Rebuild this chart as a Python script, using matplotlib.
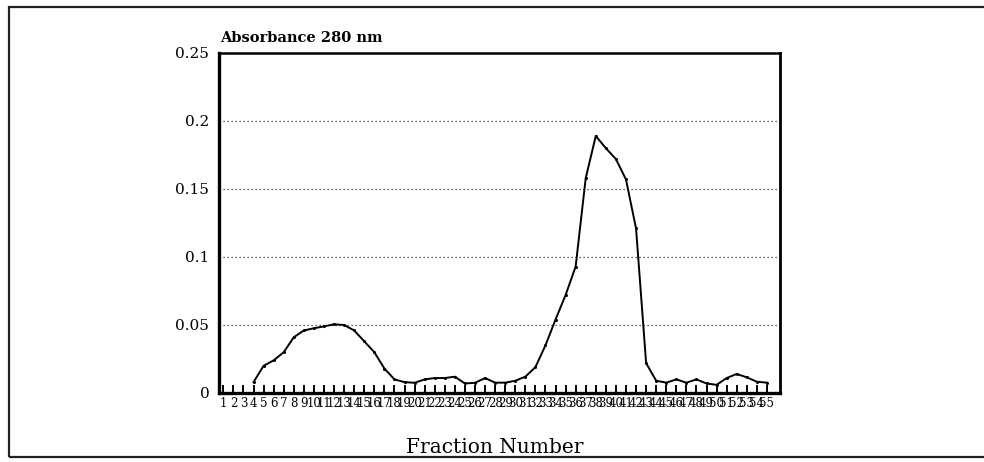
import matplotlib
matplotlib.use("Agg")
import matplotlib.pyplot as plt
from matplotlib.patches import Rectangle

# fraction numbers shown on the axis
fractions = list(range(1, 56))
tick_labels = [str(f) for f in fractions]

# absorbance readings (fractions 4-55; 1-3 not plotted)
measured_fractions = list(range(4, 56))
absorbance = [
    0.008, 0.020, 0.024, 0.030, 0.041, 0.046, 0.0476, 0.049, 0.0505, 0.050,
    0.046, 0.038, 0.030, 0.018, 0.010, 0.008, 0.0075, 0.010, 0.011, 0.011,
    0.012, 0.007, 0.0075, 0.011, 0.0076, 0.0076, 0.009, 0.012, 0.019, 0.035,
    0.054, 0.072, 0.093, 0.158, 0.189, 0.180, 0.172, 0.157, 0.121, 0.022,
    0.009, 0.0076, 0.010, 0.0076, 0.010, 0.007, 0.006, 0.011, 0.014, 0.0115,
    0.0083, 0.0076,
]

y_ticks = [0, 0.05, 0.1, 0.15, 0.2, 0.25]
y_tick_labels = ["0", "0.05", "0.1", "0.15", "0.2", "0.25"]

SERIF = ["DejaVu Serif", "Liberation Serif"]

fig = plt.figure(figsize=(9.84, 4.62), dpi=100)
W, H = 984, 462

# outer frame around the whole figure
fig.patches.append(Rectangle((9 / W, 1 - 457 / H), 990 / W, 450 / H,
                             transform=fig.transFigure, fill=False,
                             edgecolor="#222222", linewidth=1.6))

ax = fig.add_axes([219 / W, 1 - 393 / H, 561 / W, 340 / H])
ax.plot(measured_fractions, absorbance, color="black", linewidth=1.4,
        marker="o", markersize=1.2)

ax.set_xlim(0.57, 56.3)
ax.set_ylim(0, 0.25)

for v in y_ticks[1:-1]:
    ax.axhline(v, color="#333333", linewidth=0.9, linestyle=(0, (1, 2.2)), zorder=0)

ax.set_xticks(fractions)
ax.set_xticklabels(tick_labels, fontfamily=SERIF, fontsize=8.5)
ax.tick_params(axis="x", direction="in", length=5.5, width=1.4, pad=3, color="black")

ax.set_yticks(y_ticks)
ax.set_yticklabels(y_tick_labels, fontfamily=SERIF, fontsize=11)
ax.tick_params(axis="y", length=0, pad=7)

ax.spines["left"].set_linewidth(2.4)
ax.spines["bottom"].set_linewidth(2.4)
ax.spines["top"].set_linewidth(1.8)
ax.spines["right"].set_linewidth(2.0)

fig.text(220 / W, 1 - 42 / H, "Absorbance 280 nm", fontfamily=SERIF,
         fontsize=10.5, fontweight="bold", ha="left", va="baseline")
fig.text(495 / W, 1 - 453 / H, "Fraction Number", fontfamily=SERIF,
         fontsize=14.5, ha="center", va="baseline")

fig.savefig("out.png", dpi=100)
